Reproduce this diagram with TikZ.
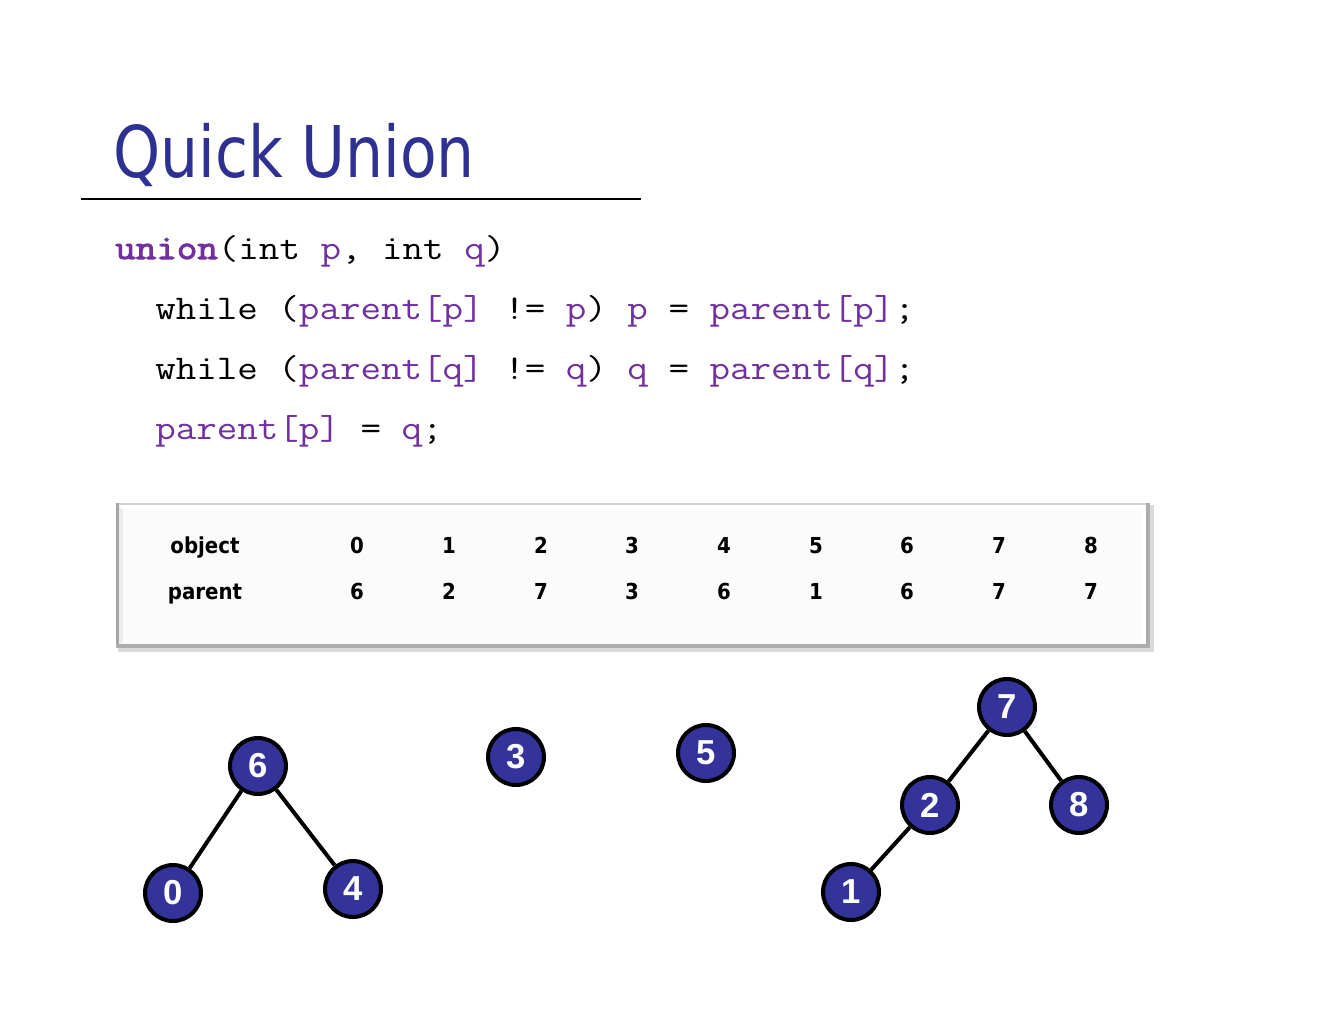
\documentclass[tikz,border=0pt]{standalone}
\usepackage{fontspec}
\newfontfamily\titlefont[FakeStretch=0.84]{DejaVu Sans}
\newfontfamily\tabfont[FakeStretch=0.9]{DejaVu Sans}
\newfontfamily\codefont[FakeStretch=1.15, BoldFont={Latin Modern Mono}, BoldFeatures={FakeBold=3}]{Latin Modern Mono}
\newfontfamily\nodefont{Liberation Sans}
\definecolor{titleblue}{RGB}{46,49,146}
\definecolor{codepurple}{RGB}{112,48,160}
\definecolor{nodeblue}{RGB}{51,51,153}
\tikzset{
  treenode/.style={circle, draw=black, fill=nodeblue, line width=3pt, minimum size=42pt, inner sep=0pt,
    text=white, font=\nodefont\bfseries\fontsize{26}{28}\selectfont},
  treeedge/.style={draw=black, line width=3pt},
  codeline/.style={anchor=base west, inner sep=0pt, font=\codefont\fontsize{26}{28}\selectfont},
  tabtext/.style={anchor=base, inner sep=0pt, font=\tabfont\bfseries\fontsize{16.5}{18}\selectfont}
}
\begin{document}
\begin{tikzpicture}[x=0.75pt,y=-0.75pt]
\useasboundingbox (0,0) rectangle (1320,1020);
% title
\node[anchor=base west, inner sep=0pt, text=titleblue, font=\titlefont\fontsize{53.5}{60}\selectfont] (title) at (113,177) {Quick Union};
\draw[line width=2pt] (81,199) coordinate (rulel) -- (641,199) coordinate (ruler);
% code
\node[codeline] (c1) at (115,259) {\textcolor{codepurple}{\bfseries union}(int \textcolor{codepurple}{p}, int \textcolor{codepurple}{q})};
\node[codeline] (c2) at (155,319) {while (\textcolor{codepurple}{parent[p]} != \textcolor{codepurple}{p}) \textcolor{codepurple}{p} = \textcolor{codepurple}{parent[p]};};
\node[codeline] (c3) at (155,379) {while (\textcolor{codepurple}{parent[q]} != \textcolor{codepurple}{q}) \textcolor{codepurple}{q} = \textcolor{codepurple}{parent[q]};};
\node[codeline] (c4) at (155,439) {\textcolor{codepurple}{parent[p]} = \textcolor{codepurple}{q};};
% table box
\fill[gray!30] (118,505) rectangle (1154,652);
\fill[gray!3] (116,503) rectangle (1150,648);
\fill[white] (116,503) -- (1150,503) -- (1143,510) -- (123,510) -- cycle;
\fill[gray!14] (116,503) -- (123,510) -- (123,641) -- (116,648) -- cycle;
\fill[white] (1150,503) -- (1150,648) -- (1143,641) -- (1143,510) -- cycle;
\fill[white!96!gray] (116,648) -- (1150,648) -- (1143,641) -- (123,641) -- cycle;
\draw[gray!35, line width=1.5pt] (116,504) -- (1150,504);
\draw[gray!70, line width=2.2pt] (117.5,503) -- (117.5,648);
\draw[gray!65, line width=3pt] (1148,503) -- (1148,648);
\draw[gray!65, line width=3pt] (116,646) -- (1150,646);
\node[tabtext] (objlbl) at (205,553) {object};
\node[tabtext] (parlbl) at (205,599) {parent};
\foreach \i/\x/\p in {0/357/6,1/449/2,2/541/7,3/632/3,4/724/6,5/816/1,6/907/6,7/999/7,8/1091/7}{
  \node[tabtext] (obj\i) at (\x,553) {\i};
  \node[tabtext] (par\i) at (\x,599) {\p};
}
% trees
\node[treenode] (n6) at (258,766) {6};
\node[treenode] (n0) at (173,893) {0};
\node[treenode] (n4) at (353,889) {4};
\node[treenode] (n3) at (516,757) {3};
\node[treenode] (n5) at (706,753) {5};
\node[treenode] (n7) at (1007,707) {7};
\node[treenode] (n2) at (930,805) {2};
\node[treenode] (n8) at (1079,805) {8};
\node[treenode] (n1) at (851,892) {1};
\draw[treeedge] (n6) -- (n0);
\draw[treeedge] (n6) -- (n4);
\draw[treeedge] (n7) -- (n2);
\draw[treeedge] (n7) -- (n8);
\draw[treeedge] (n2) -- (n1);
\end{tikzpicture}
\end{document}
